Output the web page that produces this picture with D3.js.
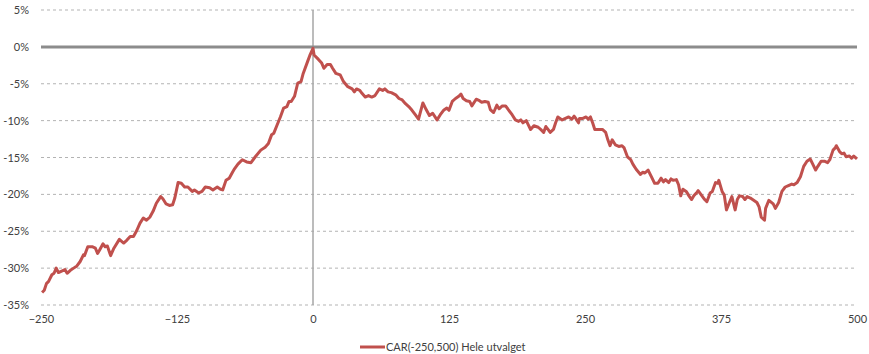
<!DOCTYPE html>
<html>
<head>
<meta charset="utf-8">
<script src="https://cdn.jsdelivr.net/npm/d3@7"></script>
<style>
  body { margin: 0; background: #fff; }
  svg text { font-family: Lato, "Open Sans", sans-serif; font-size: 11px; fill: #404040; }
</style>
</head>
<body>
<svg id="chart-area"></svg>
<script>
// event days and cumulative abnormal return (%)
const days = [-249,-247,-245,-243,-240,-238,-236,-234,-231,-228,-226,-223,-220,-217,-214,-211,-210,-207,-203,-200,
  -198,-196,-193,-191,-189,-186,-183,-178,-174,-171,-168,-165,-162,-159,-156,-153,-150,-147,-144,-140,
  -138,-135,-132,-129,-127,-124,-121,-118,-115,-111,-109,-105,-102,-99,-95,-92,-88,-85,-83,-80,
  -77,-74,-72,-69,-65,-61,-57,-53,-48,-44,-41,-38,-36,-33,-30,-27,-24,-22,-20,-17,
  -14,-11,-9,-5,-3,0,1,5,8,10,13,16,18,21,25,28,32,36,38,40,
  43,45,48,51,54,57,61,64,66,69,72,76,79,82,85,88,91,94,97,101,
  104,107,110,114,117,120,123,125,128,131,134,136,138,141,144,146,150,153,155,158,
  161,163,166,169,171,174,177,180,183,186,189,191,193,196,198,200,203,207,210,212,
  214,216,218,221,223,225,229,232,235,238,240,242,244,245,248,251,253,255,257,259,
  262,266,269,271,273,275,278,281,284,286,289,292,294,297,301,303,305,308,311,314,
  317,320,322,324,327,329,331,334,336,338,340,343,346,348,350,353,354,357,360,362,
  365,367,370,372,373,376,378,380,383,385,388,390,392,395,397,399,402,405,408,410,
  412,415,416,419,423,425,428,431,434,437,440,442,445,448,451,454,457,459,462,464,
  467,470,473,475,478,480,481,484,486,488,490,493,495,497,500]
const car = [-33.3,-33.0,-32.1,-31.8,-30.9,-30.7,-30.0,-30.6,-30.4,-30.2,-30.7,-30.3,-30.0,-29.7,-29.1,-28.2,-28.3,-27.1,-27.1,-27.3,
  -28.0,-27.5,-26.7,-27.1,-27.0,-28.3,-27.3,-26.1,-26.6,-26.2,-25.7,-25.7,-24.9,-23.9,-23.2,-23.5,-23.1,-22.3,-21.2,-20.3,
  -20.6,-21.3,-21.5,-21.4,-20.5,-18.4,-18.5,-19.0,-19.0,-19.6,-19.4,-19.8,-19.6,-19.0,-19.1,-19.4,-19.0,-19.3,-19.4,-18.1,
  -17.8,-17.0,-16.5,-15.9,-15.3,-15.6,-15.7,-14.9,-14.0,-13.6,-13.1,-11.9,-11.7,-10.6,-9.5,-8.3,-8.1,-7.4,-7.4,-6.7,
  -4.9,-4.7,-3.6,-2.0,-1.2,-0.2,-1.1,-1.7,-2.2,-2.9,-2.4,-2.4,-2.9,-3.6,-3.8,-4.7,-5.4,-5.7,-6.1,-5.7,
  -5.9,-6.3,-6.8,-6.6,-6.8,-6.6,-5.7,-5.9,-5.7,-6.1,-6.2,-6.5,-7.0,-7.2,-7.7,-8.1,-8.6,-9.2,-9.8,-7.6,
  -8.5,-9.3,-9.0,-9.9,-9.2,-8.6,-8.3,-8.6,-7.4,-7.0,-6.7,-6.4,-7.0,-7.3,-7.4,-8.0,-7.1,-7.3,-7.5,-7.4,
  -7.5,-8.5,-8.9,-7.9,-8.4,-8.0,-8.0,-8.6,-9.2,-9.9,-10.1,-9.9,-10.3,-10.0,-10.6,-11.2,-10.7,-10.9,-11.3,-11.6,
  -10.8,-11.2,-11.6,-11.2,-10.3,-9.5,-9.9,-9.7,-9.5,-9.8,-9.4,-9.8,-10.3,-9.7,-9.7,-9.5,-9.8,-9.5,-10.3,-11.2,
  -11.2,-11.2,-11.6,-12.6,-13.4,-12.6,-13.3,-13.5,-13.4,-13.7,-14.9,-15.3,-15.9,-16.6,-17.3,-17.0,-17.1,-16.7,-17.6,-18.5,
  -18.5,-17.8,-18.3,-18.0,-18.4,-17.9,-18.1,-18.0,-18.7,-20.2,-19.3,-19.6,-20.3,-20.7,-20.2,-19.7,-19.5,-20.1,-20.7,-21.0,
  -19.8,-19.6,-18.4,-18.5,-18.1,-19.6,-20.1,-22.1,-21.0,-20.3,-22.1,-20.7,-20.2,-20.3,-20.7,-20.3,-20.5,-20.8,-21.1,-21.7,
  -23.1,-23.5,-21.9,-20.8,-21.3,-21.9,-21.1,-19.6,-19.0,-18.8,-18.6,-18.7,-18.4,-17.6,-16.2,-15.5,-15.2,-15.8,-16.7,-16.2,
  -15.5,-15.5,-15.7,-15.3,-14.0,-13.7,-13.4,-14.2,-14.5,-14.4,-14.9,-14.8,-15.1,-14.8,-15.2]

const xTicks = [-250, -125, 0, 125, 250, 375, 500]
const yTicks = [5, 0, -5, -10, -15, -20, -25, -30, -35]
const seriesName = "CAR(-250,500) Hele utvalget"

const dataset = days.map((d, i) => ({ day: d, car: car[i] }))

const xAccessor = d => d.day
const yAccessor = d => d.car

const svgWidth = 869
const svgHeight = 354
const margin = { left: 41, right: 12, top: 10, bottom: 49 }
const chartWidth = svgWidth - margin.left - margin.right
const chartHeight = svgHeight - margin.top - margin.bottom

const svg = d3.select("#chart-area")
  .attr("width", svgWidth)
  .attr("height", svgHeight)

const chart = svg.append("g")
  .attr("transform", `translate(${margin.left},${margin.top})`)

const xScale = d3.scaleLinear()
  .domain([-250, 500])
  .range([0, chartWidth])

const yScale = d3.scaleLinear()
  .domain([-35, 5])
  .range([chartHeight, 0])

// dashed gridlines
chart.append("g")
  .selectAll("line")
  .data(yTicks.filter(t => t !== 0))
  .enter().append("line")
  .attr("x1", 0)
  .attr("x2", chartWidth)
  .attr("y1", d => yScale(d))
  .attr("y2", d => yScale(d))
  .attr("stroke", "#b3b3b3")
  .attr("stroke-width", 1)
  .attr("stroke-dasharray", "3,3")

// vertical line at event day
chart.append("line")
  .attr("x1", xScale(0))
  .attr("x2", xScale(0))
  .attr("y1", yScale(5))
  .attr("y2", yScale(-35))
  .attr("stroke", "#a6a6a6")
  .attr("stroke-width", 1.5)

// zero line
chart.append("line")
  .attr("x1", 0)
  .attr("x2", chartWidth)
  .attr("y1", yScale(0))
  .attr("y2", yScale(0))
  .attr("stroke", "#8c8c8c")
  .attr("stroke-width", 3)

const line = d3.line()
  .x(d => xScale(xAccessor(d)))
  .y(d => yScale(yAccessor(d)))

chart.append("path")
  .datum(dataset)
  .attr("d", line)
  .attr("fill", "none")
  .attr("stroke", "#c0504d")
  .attr("stroke-width", 3)
  .attr("stroke-linejoin", "round")

const yAxis = chart.append("g")
  .call(d3.axisLeft(yScale).tickValues(yTicks).tickSize(0).tickPadding(12)
    .tickFormat(d => d + "%"))
yAxis.select(".domain").remove()

const xAxis = chart.append("g")
  .attr("transform", `translate(0,${chartHeight})`)
  .call(d3.axisBottom(xScale).tickValues(xTicks).tickSize(0).tickPadding(10)
    .tickFormat(d3.format("d")))
xAxis.select(".domain").remove()

chart.selectAll(".tick text").attr("fill", "#404040").style("font-size", "11px")

// legend
const legend = svg.append("g")
  .attr("transform", `translate(360,347)`)
legend.append("line")
  .attr("x1", 0).attr("x2", 25)
  .attr("stroke", "#c0504d")
  .attr("stroke-width", 3)
legend.append("text")
  .attr("x", 26)
  .attr("dy", "0.35em")
  .text(seriesName)
</script>
</body>
</html>
